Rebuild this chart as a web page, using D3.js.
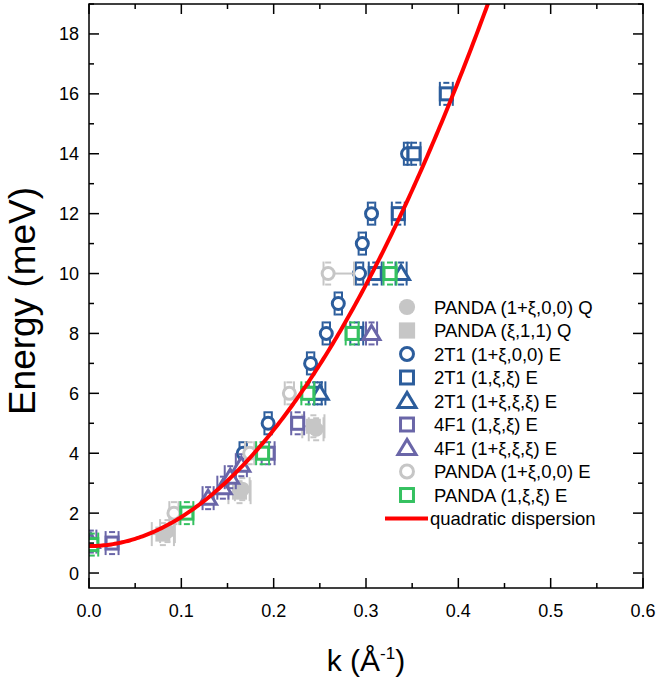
<!DOCTYPE html>
<html><head><meta charset="utf-8">
<script src="https://cdn.jsdelivr.net/npm/d3@7"></script>
<style>body{margin:0;background:#fff;} text{font-family:Arial,"Liberation Sans",sans-serif;}</style>
</head><body>
<svg id="c" width="659" height="681"></svg>
<script>
// ---- data: [k, E, dk(minus), dk(plus, optional)] ----
const pandaQCircle = [[0.085,1.4,0.008],[0.166,2.8,0.008],[0.246,4.8,0.008]];
const pandaQSquare = [[0.080,1.3,0.012],[0.163,2.7,0.012],[0.243,4.9,0.012]];
const t2CircleE = [[0.167,4,0.004],[0.194,5,0.004],[0.240,7,0.004],[0.257,8,0.004],[0.270,9,0.004],[0.293,10,0.004],[0.296,11,0.004],[0.306,12,0.004],[0.345,14,0.004]];
const t2SquareE = [[0.245,6,0.007],[0.290,8,0.007],[0.310,10,0.007],[0.335,12,0.007],[0.352,14,0.007],[0.387,16,0.007]];
const t2TriangleE = [[0.250,6,0.006],[0.338,10,0.006]];
const f4SquareE = [[0.025,1.0,0.007],[0.194,4,0.007],[0.226,5,0.007]];
const f4TriangleE = [[0.002,1.05,0.006],[0.129,2.5,0.006],[0.145,2.85,0.006],[0.153,3.2,0.006],[0.165,3.6,0.006],[0.306,8,0.006]];
const pandaECircle = [[0.092,2.0,0.005],[0.174,4,0.005],[0.217,6,0.005],[0.259,10,0.005,0.028]];
const pandaESquare = [[0.003,0.95,0.007],[0.106,2.0,0.007],[0.188,4,0.007],[0.237,6,0.007],[0.285,8,0.007],[0.326,10,0.007]];
const dispersionE0 = 0.9, dispersionD = 97;
const xTicks = [0,0.1,0.2,0.3,0.4,0.5,0.6];
const yTicks = [0,2,4,6,8,10,12,14,16,18];
const legendLabels = ["PANDA (1+\u03be,0,0) Q","PANDA (\u03be,1,1) Q","2T1 (1+\u03be,0,0) E","2T1 (1,\u03be,\u03be) E","2T1 (1+\u03be,\u03be,\u03be) E","4F1 (1,\u03be,\u03be) E","4F1 (1+\u03be,\u03be,\u03be) E","PANDA (1+\u03be,0,0) E","PANDA (1,\u03be,\u03be) E","quadratic dispersion"];

const blue="#2c5d9c", purple="#6a66a8", gray="#c6c6c6", green="#35c160", red="#ff0000";
const series = [
 {d:pandaQCircle, shape:"circle", fill:true, c:gray},
 {d:pandaQSquare, shape:"square", fill:true, c:gray},
 {d:t2CircleE, shape:"circle", fill:false, c:blue},
 {d:t2SquareE, shape:"square", fill:false, c:blue},
 {d:t2TriangleE, shape:"triangle", fill:false, c:blue},
 {d:f4SquareE, shape:"square", fill:false, c:purple},
 {d:f4TriangleE, shape:"triangle", fill:false, c:purple},
 {d:pandaECircle, shape:"circle", fill:false, c:gray},
 {d:pandaESquare, shape:"square", fill:false, c:green}
];

const L=89, R=643, T=4, B=588;
const x = d3.scaleLinear().domain([0,0.6]).range([L,R]);
const y = d3.scaleLinear().domain([-0.5,19]).range([B,T]);
const svg = d3.select("#c");

svg.append("defs").append("clipPath").attr("id","clip").append("rect").attr("x",L).attr("y",T).attr("width",R-L).attr("height",B-T);

function marker(g, shape, fill, c, cx, cy, big){
  const s = big?1.08:1;
  if(shape==="circle"){
    g.append("circle").attr("cx",cx).attr("cy",cy).attr("r",(fill?7.5:6)*s)
     .attr("fill",fill?c:"#fff").attr("stroke",c).attr("stroke-width",fill?0:3);
  } else if(shape==="square"){
    const h=(fill?7.5:6)*s;
    g.append("rect").attr("x",cx-h).attr("y",cy-h).attr("width",2*h).attr("height",2*h)
     .attr("fill",fill?c:"#fff").attr("stroke",c).attr("stroke-width",fill?0:3);
  } else {
    const h=8*s;
    g.append("path").attr("d",`M${cx},${cy-h}L${cx+h*1.05},${cy+h*0.75}L${cx-h*1.05},${cy+h*0.75}Z`)
     .attr("fill","#fff").attr("stroke",c).attr("stroke-width",3).attr("stroke-linejoin","miter");
  }
}

const plot = svg.append("g").attr("clip-path","url(#clip)");
series.forEach(s=>{
  const g = plot.append("g");
  s.d.forEach(p=>{
    const cx=x(p[0]), cy=y(p[1]);
    const x1=x(p[0]-p[2]), x2=x(p[0]+(p[3]!==undefined?p[3]:p[2]));
    const eg = g.append("g").attr("stroke",s.c).attr("stroke-width",2);
    eg.append("line").attr("x1",x1).attr("x2",x2).attr("y1",cy).attr("y2",cy);
    eg.append("line").attr("x1",x1).attr("x2",x1).attr("y1",cy-12).attr("y2",cy+12);
    eg.append("line").attr("x1",x2).attr("x2",x2).attr("y1",cy-12).attr("y2",cy+12);
    eg.append("line").attr("x1",cx-3).attr("x2",cx+3).attr("y1",cy-11).attr("y2",cy-11);
    eg.append("line").attr("x1",cx-3).attr("x2",cx+3).attr("y1",cy+11).attr("y2",cy+11);
    marker(g, s.shape, s.fill, s.c, cx, cy, false);
  });
});
const kk = d3.range(0,0.6001,0.002);
plot.append("path").datum(kk)
  .attr("d", d3.line().x(k=>x(k)).y(k=>y(dispersionE0+dispersionD*k*k)))
  .attr("fill","none").attr("stroke",red).attr("stroke-width",4);

svg.append("rect").attr("x",L).attr("y",T).attr("width",R-L).attr("height",B-T).attr("fill","none").attr("stroke","#000").attr("stroke-width",1.5);
const ax = svg.append("g").attr("stroke","#000").attr("stroke-width",1.5);
d3.range(0,0.6001,0.05).forEach((v,i)=>{
  const len = i%2===0?10:5;
  ax.append("line").attr("x1",x(v)).attr("x2",x(v)).attr("y1",B).attr("y2",B-len);
  ax.append("line").attr("x1",x(v)).attr("x2",x(v)).attr("y1",T).attr("y2",T+len);
});
d3.range(0,19.001,1).forEach((v,i)=>{
  const len = i%2===0?10:5;
  ax.append("line").attr("x1",L).attr("x2",L+len).attr("y1",y(v)).attr("y2",y(v));
  ax.append("line").attr("x1",R).attr("x2",R-len).attr("y1",y(v)).attr("y2",y(v));
});
svg.append("g").selectAll("text").data(xTicks).join("text")
  .attr("x",d=>x(d)).attr("y",B+29).attr("text-anchor","middle").attr("font-size",18).text(d=>d.toFixed(1));
svg.append("g").selectAll("text").data(yTicks).join("text")
  .attr("x",L-10).attr("y",d=>y(d)+6.5).attr("text-anchor","end").attr("font-size",18).text(d=>d);

svg.append("text").attr("transform",`translate(35,301) rotate(-90)`).attr("text-anchor","middle").attr("font-size",37).text("Energy (meV)");
const xt = svg.append("text").attr("x",366).attr("y",671).attr("text-anchor","middle").attr("font-size",30);
xt.append("tspan").text("k (\u00c5");
xt.append("tspan").attr("dy",-12).attr("font-size",17).text("-1");
xt.append("tspan").attr("dy",12).text(")");

const lg = svg.append("g");
legendLabels.forEach((t,i)=>{
  const ly = 307 + i*23.5;
  if(i<series.length){
    const s = series[i];
    marker(lg, s.shape, s.fill, s.c, 407, ly, true);
  } else {
    lg.append("line").attr("x1",385).attr("x2",428).attr("y1",ly).attr("y2",ly).attr("stroke",red).attr("stroke-width",4);
  }
  lg.append("text").attr("x",i<series.length?434:430).attr("y",ly+6.5).attr("font-size",18.5).text(t);
});
</script>
</body></html>
